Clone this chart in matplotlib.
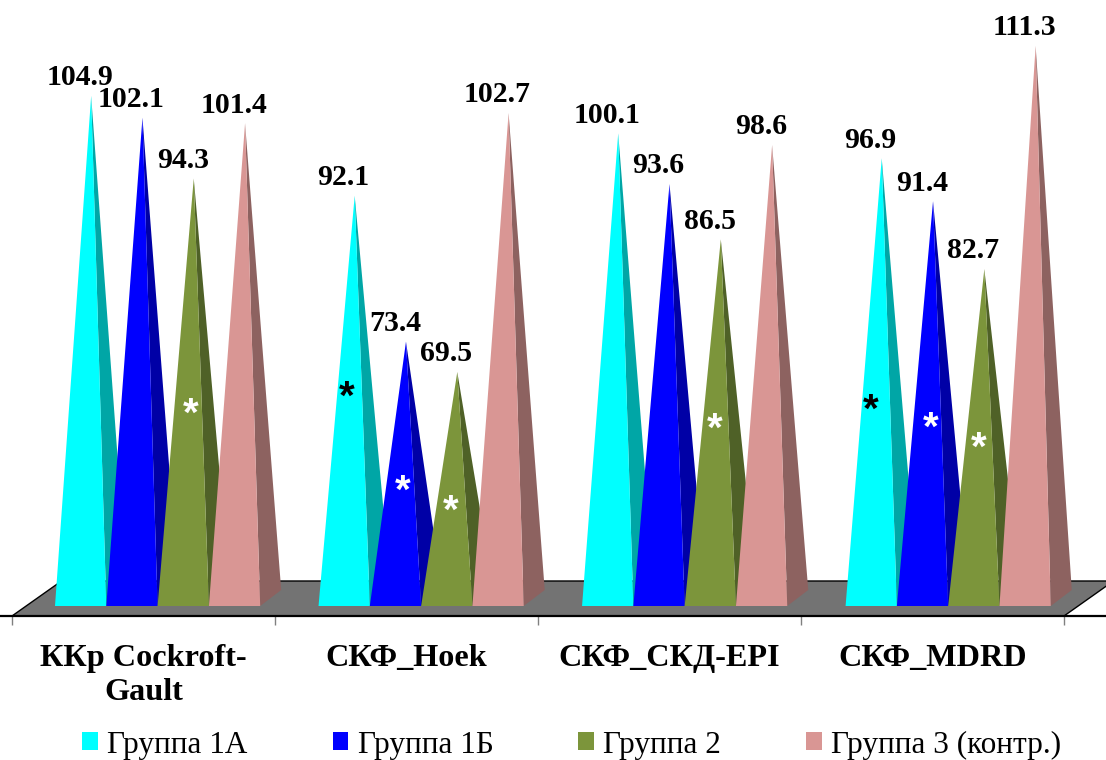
import matplotlib
matplotlib.use('Agg')
import matplotlib.pyplot as plt
from matplotlib.patches import Polygon, Patch

categories = ['ККр Cockroft-\nGault', 'СКФ_Hoek', 'СКФ_СКД-EPI', 'СКФ_MDRD']
series_names = ['Группа 1А', 'Группа 1Б', 'Группа 2', 'Группа 3 (контр.)']

group_1a = [104.9, 92.1, 100.1, 96.9]
group_1b = [102.1, 73.4, 93.6, 91.4]
group_2 = [94.3, 69.5, 86.5, 82.7]
group_3 = [101.4, 102.7, 98.6, 111.3]
series_values = [group_1a, group_1b, group_2, group_3]

# significance marks: category, series, height on the value scale, colour
star_cats = [0, 1, 1, 1, 2, 3, 3, 3]
star_series = [2, 0, 1, 2, 2, 0, 1, 2]
star_heights = [65.0, 67.2, 55.1, 52.6, 63.1, 65.5, 63.2, 60.7]
star_colors = ['white', 'black', 'white', 'white', 'white', 'black', 'white', 'white']
star_shift = [0.028, 0.01, 0.027, 0.015, 0.015, 0.0, 0.03, 0.019]

front_colors = ['#00FFFF', '#0000FF', '#7C953B', '#D99694']
side_colors = ['#00A6A6', '#0000A6', '#4F6127', '#8D6260']

plt.rcParams['font.family'] = ['Liberation Serif', 'DejaVu Serif']

# one category is 263 px wide, one value unit is 7.8 px high
x_unit = 263.0
y_unit = 7.8
base_value = 39.5
first_left = 0.1635
group_pitch = 1.002
bar_width = 51.3 / x_unit
depth_x = 21 / x_unit
depth_y = 16 / y_unit

fig = plt.figure(figsize=(11.06, 7.6), dpi=100)
ax = fig.add_axes([0, 0, 1, 1])
ax.set_xlim(-12 / x_unit, (1106 - 12) / x_unit)
ax.set_ylim(base_value - 154 / y_unit, base_value + 606 / y_unit)

# grey floor under the pyramids
floor_front = base_value - 10 / y_unit
floor_back = base_value + 25 / y_unit
floor_dx = 49.5 / x_unit
n_cat = len(categories)
ax.add_patch(Polygon([(0, floor_front), (n_cat, floor_front),
                      (n_cat + floor_dx, floor_back), (floor_dx, floor_back)],
                     closed=True, facecolor='#737373', edgecolor='black', linewidth=1.0, zorder=1))

for c in range(n_cat):
    for s in range(len(series_values)):
        left = c * group_pitch + first_left + s * bar_width
        right = left + bar_width
        val = series_values[s][c]
        apex = ((left + right) / 2 + depth_x / 2, val)
        # side first, the front face and the next pyramid go over it
        ax.add_patch(Polygon([(right, base_value), (right + depth_x, base_value + depth_y), apex],
                             closed=True, facecolor=side_colors[s], edgecolor='none', zorder=2))
        ax.add_patch(Polygon([(left, base_value), (right, base_value), apex],
                             closed=True, facecolor=front_colors[s], edgecolor='none', zorder=2))
        ax.annotate(f'{val:.1f}', xy=apex, xytext=(-8.0, 13.0), textcoords='offset points',
                    ha='center', va='center', fontsize=21.4, fontweight='bold', color='black', zorder=5)

for c, s, h, col, shift in zip(star_cats, star_series, star_heights, star_colors, star_shift):
    x = c * group_pitch + first_left + (s + 0.5) * bar_width + shift
    ax.text(x, h - 1.0, '*', ha='center', va='center', fontsize=29, fontweight='bold',
            family=['Liberation Sans'], color=col, zorder=6)

# x axis sits on the front edge of the floor
ax.spines['top'].set_visible(False)
ax.spines['left'].set_visible(False)
ax.spines['right'].set_visible(False)
ax.spines['bottom'].set_position(('data', floor_front))
ax.spines['bottom'].set_linewidth(1.6)
ax.spines['bottom'].set_zorder(3)
ax.set_yticks([])
ax.set_xticks(range(n_cat + 1))
ax.set_xticklabels([])
ax.tick_params(axis='x', which='major', length=6.5, width=1, color='#808080')
ax.set_xticks([i + 0.5 for i in range(n_cat)], minor=True)
ax.set_xticklabels(categories, minor=True, fontsize=23.2, fontweight='bold', linespacing=1.25)
ax.tick_params(axis='x', which='minor', length=0, pad=20)

handles = [Patch(facecolor=col, edgecolor='none', label=name)
           for col, name in zip(front_colors, series_names)]
ax.legend(handles=handles, loc='lower center', bbox_to_anchor=(0.517, -0.02), ncol=4, frameon=False,
          fontsize=22.5, handlelength=0.51, handleheight=0.51, handletextpad=0.29,
          columnspacing=2.72, borderaxespad=0.1)

plt.savefig('out.png', dpi=100)
